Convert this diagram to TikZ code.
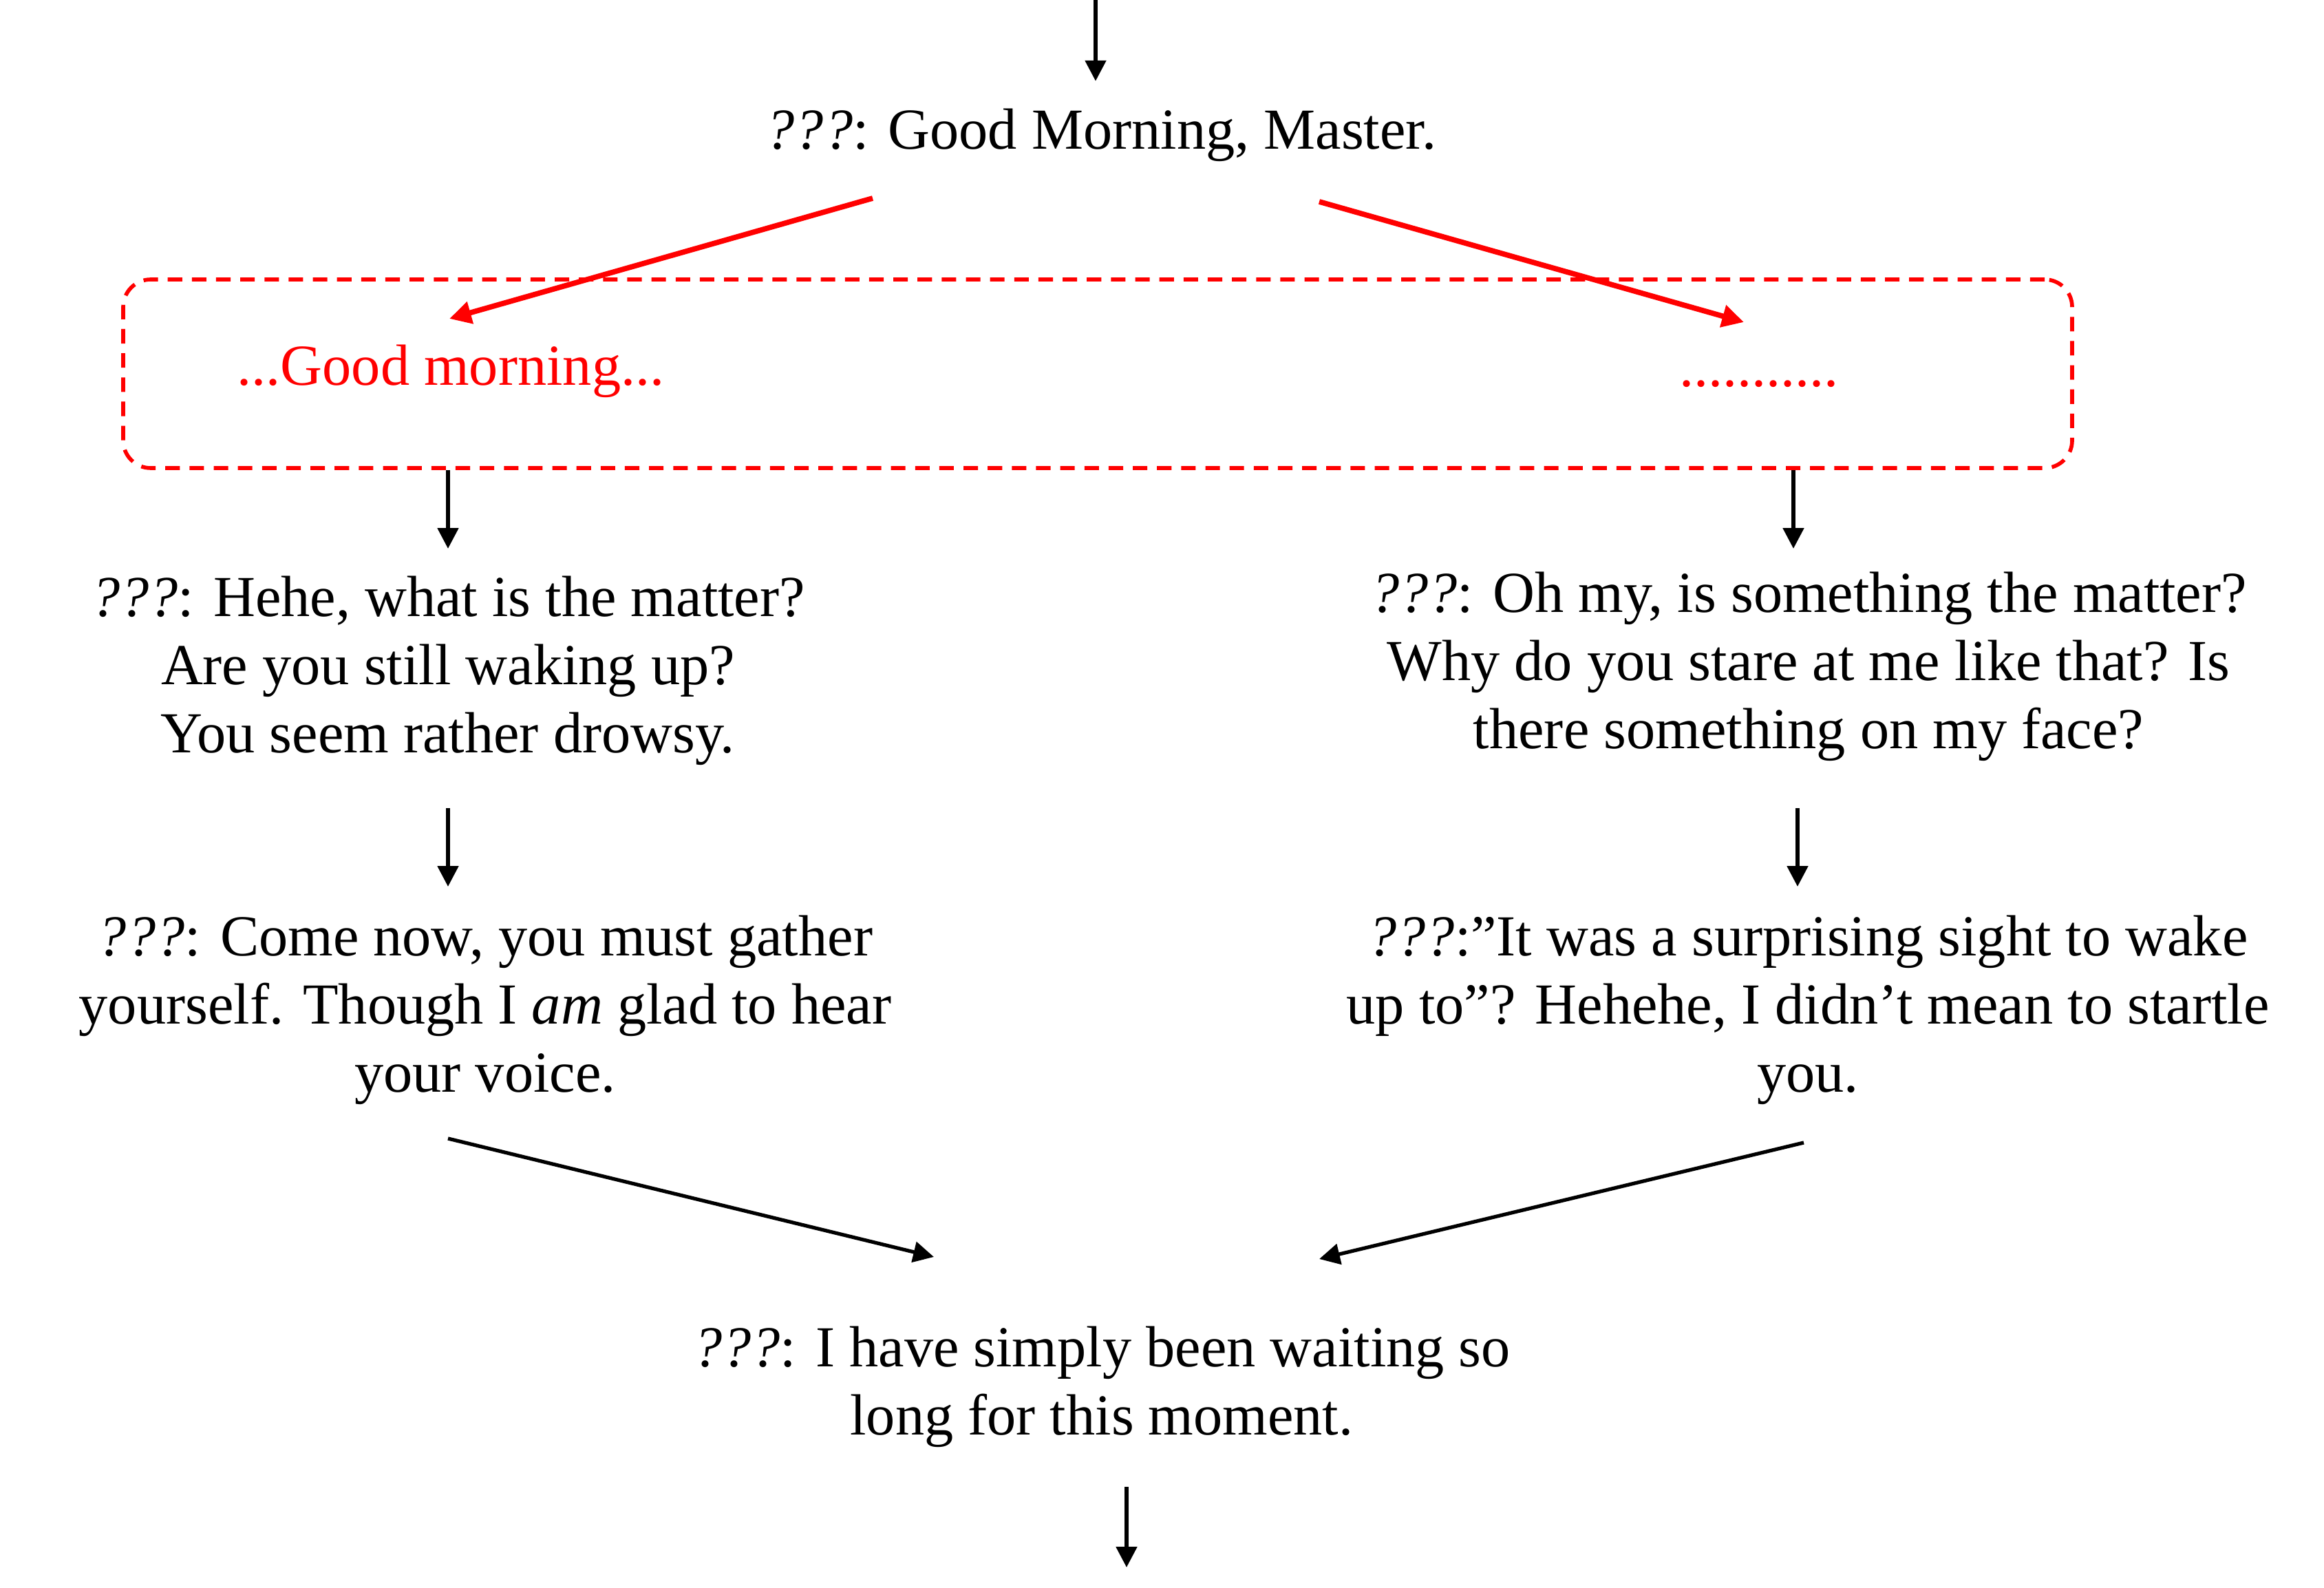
\documentclass[tikz,border=0pt]{standalone}
\usepackage{fontspec}
\setmainfont{Liberation Serif}
\usetikzlibrary{arrows.meta}
\begin{document}
\begin{tikzpicture}[
talk/.style={align=center,inner sep=0pt,font=\fontsize{24}{28.2}\selectfont},
choice/.style={talk,text=red},
arr/.style={-{Triangle[length=8.5pt,width=8.5pt]},line width=1.5pt},
redarr/.style={-{Triangle[length=9pt,width=9pt]},line width=2.2pt,red},
choicebox/.style={draw=red,dash pattern=on 6pt off 4pt,line width=1.6pt,rounded corners=0.4cm,
                  minimum width=28.32cm,minimum height=2.74cm}]
\useasboundingbox (0,0) rectangle (33.77,-23.07);
\node[talk,anchor=base] (title) at (16.00,-2.17) {\textit{???}: Good Morning, Master.};
%==================
\node[choicebox] (box) at (15.95,-5.43) {};
\node[choice,anchor=base] (gm) at (6.55,-5.60) {...Good morning...};
\node[choice,anchor=base] (dots) at (25.56,-5.62) {...........};
%==================
\node[talk] (hehe) at (6.51,-9.74) {\textit{???}: Hehe, what is the matter?\\Are you still waking up?\\You seem rather drowsy.};
\node[talk] (ohmy) at (26.28,-9.68) {\textit{???}: Oh my, is something the matter?\\Why do you stare at me like that? Is\\there something on my face?};
\node[talk] (gather) at (7.05,-14.67) {\textit{???}: Come now, you must gather\\yourself. Though I \textit{am} glad to hear\\your voice.};
\node[talk] (startle) at (26.27,-14.67) {\textit{???}:”It was a surprising sight to wake\\up to”? Hehehe, I didn’t mean to startle\\you.};
\node[talk] (wait) at (16.01,-20.15) {\textit{???}: I have simply been waiting so\\long for this moment.};
% ===================
\coordinate (in) at (15.92,0);
\coordinate (out) at (16.37,-22.77);
\coordinate (tl) at (12.68,-2.88);
\coordinate (tr) at (19.17,-2.93);
\coordinate (gmin) at (6.53,-4.63);
\coordinate (dotsin) at (25.34,-4.68);
\coordinate (ohin) at (26.06,-7.97);
\coordinate (heout) at (6.51,-11.74);
\coordinate (ohout) at (26.12,-11.74);
\coordinate (stin) at (26.12,-12.88);
\coordinate (stout) at (26.21,-16.60);
\coordinate (gaout) at (6.51,-16.54);
\coordinate (wl) at (13.57,-18.26);
\coordinate (wr) at (19.17,-18.29);
\coordinate (waout) at (16.37,-21.60);
% ===================
\draw[arr,shorten >=0.40cm] (in) -- (in |- title.north);
\draw[redarr] (tl) -- (gmin);
\draw[redarr] (tr) -- (dotsin);
\draw[arr] (box.south -| hehe) -- (hehe.north |- ohin);
\draw[arr] (box.south -| ohin) -- (ohin);
\draw[arr] (heout) -- (heout |- stin);
\draw[arr] (ohout) -- (stin);
\draw[arr] (gaout) -- (wl);
\draw[arr] (stout) -- (wr);
\draw[arr] (waout) -- (out);
\end{tikzpicture}
\end{document}
